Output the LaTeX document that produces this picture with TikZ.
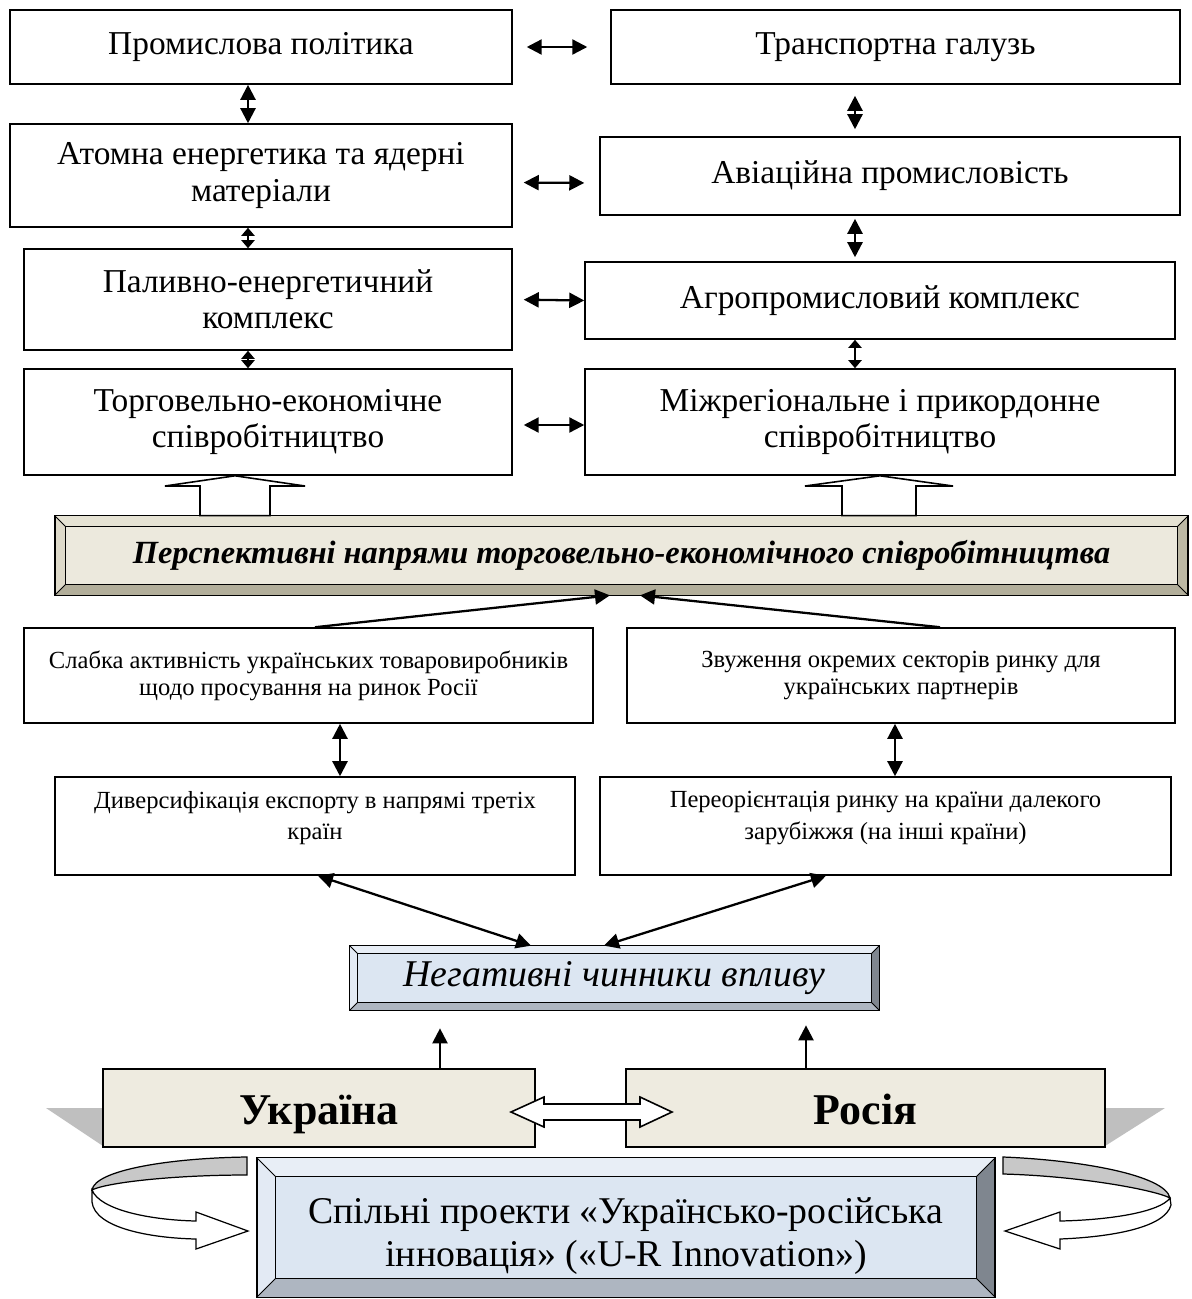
\documentclass[tikz,border=0pt]{standalone}
\usepackage{fontspec}
\setmainfont{Liberation Serif}
\usetikzlibrary{arrows.meta,positioning,calc}
\definecolor{ivory}{HTML}{EEEBE0}
\definecolor{banface}{HTML}{ECE9DD}
\definecolor{bantop}{HTML}{E6E3D4}
\definecolor{banleft}{HTML}{DEDACA}
\definecolor{banbot}{HTML}{B2AE9A}
\definecolor{banright}{HTML}{BDB9A5}
\definecolor{iceface}{HTML}{DCE6F2}
\definecolor{icetop}{HTML}{E8EEF6}
\definecolor{iceleft}{HTML}{E3EAF4}
\definecolor{icebot}{HTML}{AEB6C1}
\definecolor{iceright}{HTML}{7F868F}
\definecolor{bandgray}{HTML}{BFBFBF}
\definecolor{twistgray}{HTML}{C8C8C8}
% рамка з фаскою: вузол, глибина, верх, ліво, низ, право
\newcommand{\bevelframe}[6]{%
  \fill[#3] (#1.north west) -- (#1.north east) -- ([shift={(-#2,-#2)}]#1.north east) -- ([shift={(#2,-#2)}]#1.north west) -- cycle;
  \fill[#4] (#1.north west) -- (#1.south west) -- ([shift={(#2,#2)}]#1.south west) -- ([shift={(#2,-#2)}]#1.north west) -- cycle;
  \fill[#5] (#1.south west) -- (#1.south east) -- ([shift={(-#2,#2)}]#1.south east) -- ([shift={(#2,#2)}]#1.south west) -- cycle;
  \fill[#6] (#1.north east) -- (#1.south east) -- ([shift={(-#2,#2)}]#1.south east) -- ([shift={(-#2,-#2)}]#1.north east) -- cycle;
  \draw[line width=0.7pt] ([shift={(#2,-#2)}]#1.north west) rectangle ([shift={(-#2,#2)}]#1.south east);
  \draw[line width=0.5pt] (#1.north west) -- ([shift={(#2,-#2)}]#1.north west)
    (#1.north east) -- ([shift={(-#2,-#2)}]#1.north east)
    (#1.south west) -- ([shift={(#2,#2)}]#1.south west)
    (#1.south east) -- ([shift={(-#2,#2)}]#1.south east);
  \draw[line width=0.9pt] (#1.north west) rectangle (#1.south east);
}
\tikzset{
  >={Triangle[length=3mm,width=3mm]},
  % блоки
  bx/.style={draw,line width=0.9pt,inner sep=2pt,align=center,
             font=\fontsize{19}{20.5}\selectfont},
  sbx/.style={bx,font=\fontsize{14}{15.5}\selectfont},
  tbx/.style={draw,line width=0.9pt,inner sep=0pt},
  tlab/.style={align=center,font=\fontsize{14}{18}\selectfont,yshift=0.16cm},
  ban/.style={fill=banface,inner sep=0pt,align=center,
              font=\fontsize{18.4}{22}\selectfont\bfseries\itshape},
  neg/.style={fill=iceface,inner sep=0pt,align=center,
              font=\fontsize{21.5}{26}\selectfont\itshape},
  joint/.style={fill=iceface,inner sep=0pt},
  jlab/.style={align=center,font=\fontsize{21.5}{24.5}\selectfont,yshift=-0.17cm},
  land/.style={draw,fill=ivory,line width=0.9pt,inner sep=0pt},
  llab/.style={inner sep=0pt,text height=0.68em,text depth=0.22em,yshift=-0.24cm,
               font=\fontsize{25}{30}\selectfont\bfseries},
  % стрілки
  dbl/.style={<->,line width=1.3pt},
  dbls/.style={{Triangle[length=1.6mm,width=2.6mm]}-{Triangle[length=1.6mm,width=2.6mm]},line width=1.3pt},
  one/.style={->,line width=1.3pt},
  blk/.style={draw,fill=white,line width=0.9pt,line join=miter},
}
\begin{document}
\begin{tikzpicture}[x=0.02cm,y=-0.02cm]
  \useasboundingbox (0,0) rectangle (1192,1299);
  % верхні блоки
  \node[bx,minimum width=10.04cm,minimum height=1.48cm] (prom) at (261,47) {Промислова політика};
  \node[bx,minimum width=11.38cm,minimum height=1.48cm] (trans) at (895.5,47) {Транспортна галузь};
  \node[bx,minimum width=10.04cm,minimum height=2.06cm] (atom) at (261,175.5) {Атомна енергетика та ядерні\\матеріали};
  \node[bx,minimum width=11.6cm,minimum height=1.56cm] (avia) at (890,176) {Авіаційна промисловість};
  \node[bx,minimum width=9.76cm,minimum height=2.02cm] (fuel) at (268,299.5) {Паливно-енергетичний\\комплекс};
  \node[bx,minimum width=11.8cm,minimum height=1.54cm] (agro) at (880,300.5) {Агропромисловий комплекс};
  \node[bx,minimum width=9.76cm,minimum height=2.12cm] (trade) at (268,422) {Торговельно-економічне\\співробітництво};
  \node[bx,minimum width=11.8cm,minimum height=2.12cm] (region) at (880,422) {Міжрегіональне і прикордонне\\співробітництво};
  \draw[dbl,shorten <=0.28cm,shorten >=0.46cm] (prom.east) -- (trans.west);
  \draw[dbl,shorten <=0.22cm,shorten >=0.3cm] ([yshift=-0.14cm]atom.east) -- ([yshift=-0.14cm]avia.west);
  \draw[dbl,shorten <=0.22cm] (fuel.east) -- (agro.west);
  \draw[dbl,shorten <=0.22cm] ([yshift=-0.06cm]trade.east) -- ([yshift=-0.06cm]region.west);
  \draw[dbl] (prom.south -| 248,0) -- (atom.north -| 248,0);
  \draw[dbls] (atom.south -| 248,0) -- (fuel.north -| 248,0);
  \draw[dbls] (fuel.south -| 248,0) -- (trade.north -| 248,0);
  \draw[dbl,shorten <=0.22cm,shorten >=0.14cm] (trans.south -| 855,0) -- (avia.north -| 855,0);
  \draw[dbl,shorten <=0.06cm,shorten >=0.08cm] (avia.south -| 855,0) -- (agro.north -| 855,0);
  \draw[dbls] (agro.south -| 855,0) -- (region.north -| 855,0);
  % банер
  \node[ban,minimum width=22.66cm,minimum height=1.58cm] (persp) at (621.5,555.5)
    {Перспективні напрями торговельно-економічного співробітництва};
  \bevelframe{persp}{0.22cm}{bantop}{banleft}{banbot}{banright}
  \draw[blk] (persp.north -| 200,0) -- (200,486) -- (165,486) -- (trade.south -| 235,0)
    -- (305,486) -- (270,486) -- (persp.north -| 270,0) -- cycle;
  \draw[blk] (persp.north -| 842,0) -- (842,486) -- (805,486) -- (region.south -| 880,0)
    -- (953,486) -- (916,486) -- (persp.north -| 916,0) -- cycle;
  % чинники
  \node[sbx,minimum width=11.38cm,minimum height=1.9cm] (weak) at (308.5,675.5)
    {Слабка активність українських товаровиробників\\щодо просування на ринок Росії};
  \node[sbx,minimum width=10.96cm,minimum height=1.9cm] (narrow) at (901,675.5)
    {Звуження окремих секторів ринку для\\українських партнерів};
  \node[tbx,minimum width=10.4cm,minimum height=1.96cm,
        label={[tlab]center:Диверсифікація експорту в напрямі третіх\\країн}] (divers) at (315,826) {};
  \node[tbx,minimum width=11.42cm,minimum height=1.96cm,
        label={[tlab]center:Переорієнтація ринку на країни далекого\\зарубіжжя (на інші країни)}] (reor) at (885.5,826) {};
  \draw[one] (weak.north -| 315,0) -- (persp.south -| 610,0);
  \draw[one] (narrow.north -| 940,0) -- (persp.south -| 640,0);
  \draw[dbl] (weak.south -| 340,0) -- (divers.north -| 340,0);
  \draw[dbl] (narrow.south -| 895,0) -- (reor.north -| 895,0);
  \node[neg,minimum width=10.58cm,minimum height=1.28cm] (negf) at (614.5,978) {Негативні чинники впливу};
  \bevelframe{negf}{0.16cm}{icetop}{iceleft}{icebot}{iceright}
  \draw[dbl] (divers.south -| 318,0) -- (negf.north -| 531,0);
  \draw[dbl] (reor.south -| 826,0) -- (negf.north -| 604,0);
  % країни
  \fill[bandgray] (46,1108) -- (103,1108) -- (103,1146) -- cycle;
  \fill[bandgray] (1105,1108) -- (1165,1108) -- (1105,1146) -- cycle;
  \node[land,minimum width=8.64cm,minimum height=1.56cm,label={[llab]center:Україна}] (ukr) at (319,1108) {};
  \node[land,minimum width=9.58cm,minimum height=1.56cm,label={[llab]center:Росія}] (rus) at (865.5,1108) {};
  \draw[one,shorten >=0.36cm] (ukr.north -| 440,0) -- (negf.south -| 440,0);
  \draw[one,shorten >=0.3cm] (rus.north -| 806,0) -- (negf.south -| 806,0);
  \draw[blk] (511,1112) -- (544,1097) -- (544,1104) -- (640,1104) -- (640,1097) -- (672,1112)
    -- (640,1127) -- (640,1120) -- (544,1120) -- (544,1127) -- cycle;
  % спільні проекти
  \node[joint,minimum width=14.76cm,minimum height=2.78cm] (joint) at (626,1227.5) {};
  \bevelframe{joint}{0.38cm}{icetop}{iceleft}{icebot}{iceright}
  \node[jlab] (jtext) at (joint.center) {Спільні проекти «Українсько-російська\\інновація» («U-R Innovation»)};
  \filldraw[fill=twistgray,line width=0.7pt] (247,1157) .. controls (170,1158) and (95,1170) .. (92,1190)
    .. controls (105,1183) and (170,1175) .. (247,1175) -- cycle;
  \filldraw[fill=white,line width=0.7pt] (92,1190) -- (92,1202) .. controls (95,1228) and (150,1238) .. (196,1239)
    -- (196,1249) -- (248,1231) -- (196,1212) -- (196,1221) .. controls (150,1220) and (100,1210) .. (92,1190) -- cycle;
  \filldraw[fill=twistgray,line width=0.7pt] (1003,1157) .. controls (1080,1160) and (1165,1175) .. (1170,1198)
    .. controls (1155,1190) and (1080,1176) .. (1003,1174) -- cycle;
  \filldraw[fill=white,line width=0.7pt] (1170,1198) -- (1171,1205) .. controls (1165,1228) and (1110,1237) .. (1060,1239)
    -- (1060,1249) -- (1005,1231) -- (1060,1212) -- (1060,1221) .. controls (1110,1220) and (1160,1212) .. (1170,1198) -- cycle;
\end{tikzpicture}
\end{document}
